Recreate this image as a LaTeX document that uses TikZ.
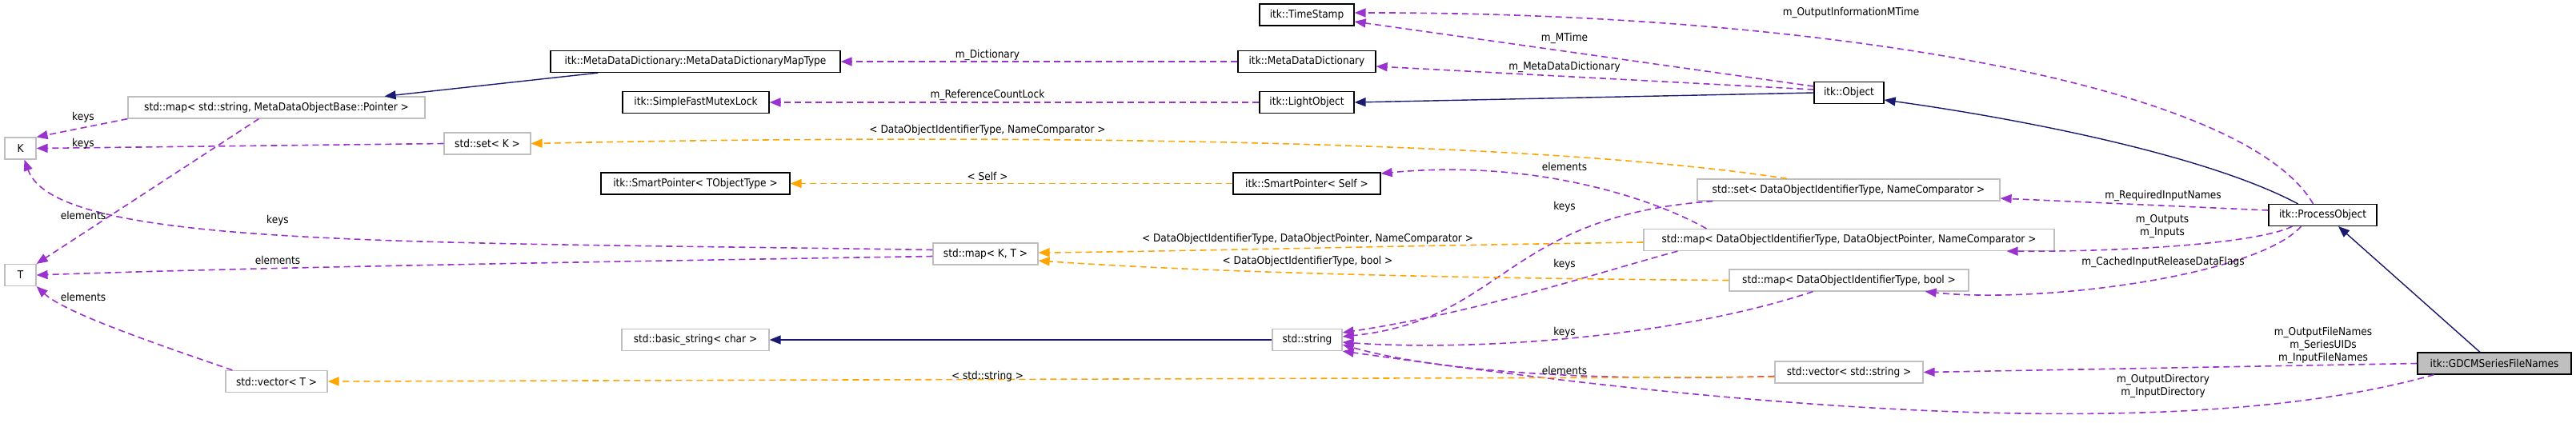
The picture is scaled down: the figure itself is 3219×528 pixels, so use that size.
\documentclass[tikz,border=0pt]{standalone}
\usepackage{fontspec}
\setmainfont{DejaVu Sans Condensed}
\usepackage{xcolor}
\usepackage{tikz}
\usetikzlibrary{arrows.meta}
\definecolor{dxnavy}{HTML}{191970}
\definecolor{dxorchid}{HTML}{9A32CD}
\definecolor{dxorange}{HTML}{FFA500}
\definecolor{dxgray}{HTML}{BFBFBF}
\newcommand{\dxfont}{\fontsize{13.5pt}{16pt}\selectfont}

\begin{document}
\begin{tikzpicture}[x=1pt, y=-1pt,
        cls/.style={draw=black, fill=white, line width=1.2pt, minimum height=27pt, inner xsep=3pt, inner ysep=0pt, font=\dxfont},
        extcls/.style={cls, draw=dxgray},
        curcls/.style={cls, fill=dxgray},
        lbl/.style={inner sep=0pt, align=center, font=\dxfont},
        inh/.style={-{Triangle[length=14pt,width=11pt]}, line width=1.4pt, dxnavy},
        usage/.style={-{Triangle[length=14pt,width=11pt]}, line width=1.6pt, dxorchid, dash pattern=on 8pt off 5pt},
        tmpl/.style={usage, dxorange}
      ]
        \useasboundingbox (0,0) rectangle (3219,528);
        \node[extcls, minimum width=371pt] (mapstr) at (345.5,134.5) {std::map< std::string, MetaDataObjectBase::Pointer >};
        \node[extcls, minimum width=39pt] (K) at (25.5,185.5) {K};
        \node[extcls, minimum width=39pt] (T) at (25.5,344) {T};
        \node[extcls, minimum width=108pt] (setK) at (609,179.5) {std::set< K >};
        \node[extcls, minimum width=127pt] (vecT) at (345.5,477) {std::vector< T >};
        \node[cls, minimum width=362pt] (mddmap) at (869,77) {itk::MetaDataDictionary::MetaDataDictionaryMapType};
        \node[cls, minimum width=183pt] (mutex) at (869.5,128) {itk::SimpleFastMutexLock};
        \node[cls, minimum width=236pt] (spT) at (869,229.5) {itk::SmartPointer< TObjectType >};
        \node[extcls, minimum width=184pt] (basicstr) at (869,425) {std::basic\_string< char >};
        \node[extcls, minimum width=131pt] (mapKT) at (1231.5,317.5) {std::map< K, T >};
        \node[cls, minimum width=118pt] (timestamp) at (1633,18.5) {itk::TimeStamp};
        \node[cls, minimum width=172pt] (mdd) at (1633,77) {itk::MetaDataDictionary};
        \node[cls, minimum width=118pt] (light) at (1633,128) {itk::LightObject};
        \node[cls, minimum width=184pt] (spself) at (1633,229.5) {itk::SmartPointer< Self >};
        \node[extcls, minimum width=87pt] (string) at (1633.5,425) {std::string};
        \node[cls, minimum width=87pt] (object) at (2310.5,116) {itk::Object};
        \node[extcls, minimum width=378pt] (setdoit) at (2310,237.5) {std::set< DataObjectIdentifierType, NameComparator >};
        \node[extcls, minimum width=513pt] (mapdop) at (2310.5,300) {std::map< DataObjectIdentifierType, DataObjectPointer, NameComparator >};
        \node[extcls, minimum width=299pt] (mapbool) at (2310.5,350.5) {std::map< DataObjectIdentifierType, bool >};
        \node[extcls, minimum width=185pt] (vecstr) at (2310.5,465.5) {std::vector< std::string >};
        \node[cls, minimum width=135pt] (process) at (2902.5,269) {itk::ProcessObject};
        \node[curcls, minimum width=192pt] (gdcm) at (3117,454.5) {itk::GDCMSeriesFileNames};

        \draw[inh] ([xshift=60pt]mddmap.south west) -- ([xshift=-51pt]mapstr.north east);
        \draw[usage] (mapstr.south west) -- (K.north east);
        \draw[usage] ([xshift=164pt]mapstr.south west) -- (T.north east);
        \draw[usage] (setK.west) -- (K.east);
        \draw[usage] ([yshift=5pt]mapKT.west) .. controls (500,302) and (70,310) .. ([xshift=5pt]K.south);
        \draw[usage] ([yshift=-3pt]mapKT.west) .. controls (700,328) and (300,335) .. (T.east);
        \draw[usage] ([xshift=9pt]vecT.north west) .. controls (180,425) and (80,390) .. (T.south east);
        \draw[tmpl] ([xshift=-77pt]setdoit.north) .. controls (1900,172) and (1200,168) .. (setK.east);
        \draw[tmpl] (spself.west) -- (spT.east);
        \draw[usage] (mdd.west) -- (mddmap.east);
        \draw[usage] (light.west) -- (mutex.east);
        \draw[inh] (object.west) -- (light.east);
        \draw[usage] ([yshift=8pt]object.west) -- ([yshift=-8.5pt]timestamp.east);
        \draw[usage] ([yshift=4pt]object.west) -- ([yshift=-6pt]mdd.east);
        \draw[inh] ([xshift=-31pt]process.north) .. controls (2750,190) and (2500,145) .. ([yshift=-9pt]object.east);
        \draw[usage] ([xshift=-12pt]process.north) .. controls (2800,100) and (2250,15) .. ([yshift=2.5pt]timestamp.east);
        \draw[usage] ([yshift=6pt]process.west) -- ([yshift=-10.5pt]setdoit.east);
        \draw[usage] ([xshift=-38pt]process.south) .. controls (2820,305) and (2650,315) .. ([xshift=-60pt]mapdop.south east);
        \draw[usage] ([xshift=-27pt]process.south) .. controls (2820,345) and (2550,380) .. ([xshift=-55pt]mapbool.south east);
        \draw[inh] ([xshift=-18pt]gdcm.north) -- ([xshift=19.5pt]process.south);
        \draw[usage] (gdcm.west) -- (vecstr.east);
        \draw[usage] ([xshift=21pt]gdcm.south west) .. controls (2650,580) and (1900,470) .. (string.south east);
        \draw[usage] ([yshift=-5pt]vecstr.west) .. controls (1950,478) and (1780,460) .. ([yshift=-6pt]string.east);
        \draw[tmpl] ([yshift=-6pt]vecstr.west) -- (vecT.east);
        \draw[inh] (string.west) -- (basicstr.east);
        \draw[usage] ([xshift=43pt]mapdop.south west) .. controls (2000,340) and (1850,390) .. ([yshift=9pt]string.east);
        \draw[usage] ([xshift=105pt]mapbool.south west) .. controls (2100,420) and (1850,440) .. ([yshift=-3pt]string.east);
        \draw[usage] ([xshift=20pt]setdoit.south west) .. controls (1880,270) and (1880,400) .. ([yshift=4pt]string.east);
        \draw[usage] ([xshift=79pt]mapdop.north west) .. controls (2050,240) and (1900,200) .. ([yshift=12.5pt]spself.east);
        \draw[tmpl] ([yshift=-3pt]mapdop.west) .. controls (1700,308) and (1500,314) .. ([yshift=1.5pt]mapKT.east);
        \draw[tmpl] (mapbool.west) .. controls (1800,348) and (1500,340) .. ([yshift=-8.5pt]mapKT.east);

        \node[lbl] (lkeysmap) at (104,147) {keys};
        \node[lbl] (lkeysset) at (104,180) {keys};
        \node[lbl] (lelemmap) at (104,269) {elements};
        \node[lbl] (lkeyskt) at (347,276) {keys};
        \node[lbl] (lelemkt) at (347,325) {elements};
        \node[lbl] (lelemvec) at (104,371) {elements};
        \node[lbl] (ldict) at (1234,69) {m\_Dictionary};
        \node[lbl] (llock) at (1234,119) {m\_ReferenceCountLock};
        \node[lbl] (lsetargs) at (1234,163) {< DataObjectIdentifierType, NameComparator >};
        \node[lbl] (lself) at (1234,220) {< Self >};
        \node[lbl] (lmapargs) at (1634,299) {< DataObjectIdentifierType, DataObjectPointer, NameComparator >};
        \node[lbl] (lboolargs) at (1634,327) {< DataObjectIdentifierType, bool >};
        \node[lbl] (lstrargs) at (1234,471) {< std::string >};
        \node[lbl] (lomtime) at (2313,16) {m\_OutputInformationMTime};
        \node[lbl] (lmtime) at (1955,48) {m\_MTime};
        \node[lbl] (lmdd) at (1955,84) {m\_MetaDataDictionary};
        \node[lbl] (lelemsp) at (1955,208) {elements};
        \node[lbl] (lkeysdoit) at (1955,259) {keys};
        \node[lbl] (lkeysdop) at (1955,331) {keys};
        \node[lbl] (lkeysbool) at (1955,416) {keys};
        \node[lbl] (lelemstr) at (1955,463) {elements};
        \node[lbl] (lreq) at (2703,245) {m\_RequiredInputNames};
        \node[lbl] (lio) at (2702,283) {m\_Outputs\\m\_Inputs};
        \node[lbl] (lcache) at (2703,328) {m\_CachedInputReleaseDataFlags};
        \node[lbl] (lfiles) at (2903,432) {m\_OutputFileNames\\m\_SeriesUIDs\\m\_InputFileNames};
        \node[lbl] (ldirs) at (2703,483) {m\_OutputDirectory\\m\_InputDirectory};
      \end{tikzpicture}
\end{document}
